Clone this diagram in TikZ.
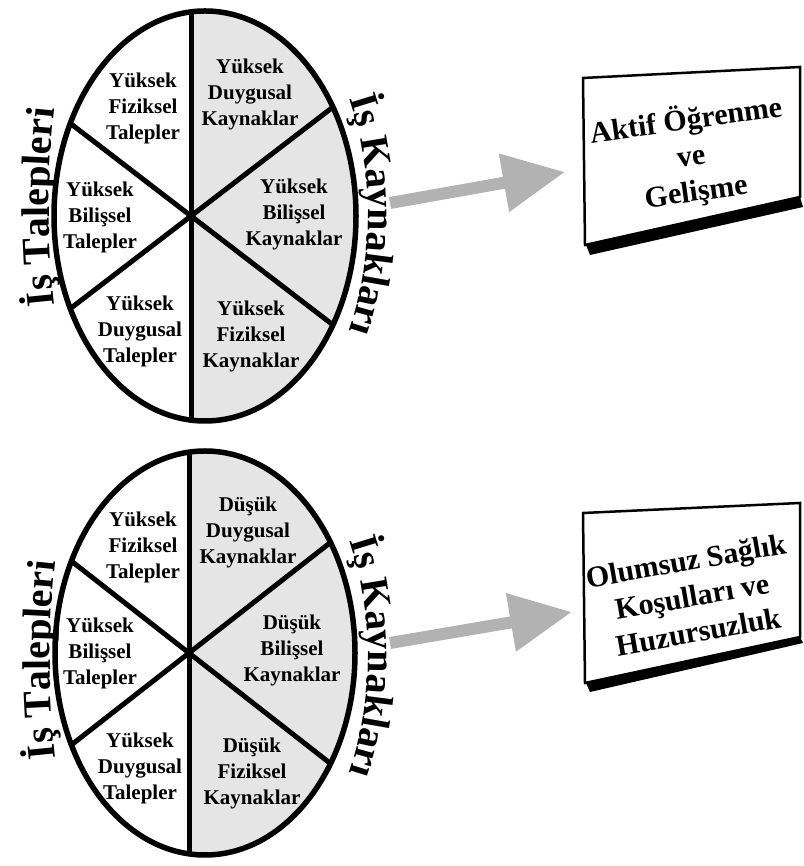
\documentclass[tikz,border=0pt]{standalone}
\usepackage{fontspec}
\setmainfont{Liberation Serif}
\usetikzlibrary{arrows.meta,decorations.text}

\definecolor{halfgray}{gray}{0.9}
\definecolor{arrowgray}{gray}{0.7}
\newcommand{\sidefont}{\bfseries\fontsize{40}{44}\selectfont}

\tikzset{
  rim/.style={draw=black, line width=5.5pt},
  divider/.style={draw=black, line width=5pt},
  sector/.style={font=\bfseries\fontsize{21}{26}\selectfont, align=center, inner sep=0pt, text=black},
  boxtext/.style={font=\bfseries\fontsize{30}{36}\selectfont, align=center, inner sep=0pt, text=black},
  slab/.style={draw=black, line width=2.5pt, fill=white, line join=miter},
  slabshadow/.style={fill=black},
  bigarrow/.style={draw=arrowgray, line width=12pt, -{Triangle[length=62pt, width=56pt]}},
}

\begin{document}
\begin{tikzpicture}[x=1pt, y=1pt]
  \useasboundingbox (0,0) rectangle (803,866);
  \fill[white] (0,0) rectangle (803,866);

  % ---------- upper wheel: high demands, high resources ----------
  \begin{scope}[shift={(191,650)}]
    \coordinate (hubA) at (0,0);
    \begin{scope}
      \clip (14,0) ellipse [x radius=151, y radius=205];
      \fill[halfgray] (0,-215) rectangle (180,215);
      \draw[divider] (0,-215) -- (0,215);
      \draw[divider] (142.5:260) -- (-37.5:260);
      \draw[divider] (37.5:260) -- (217.5:260);
    \end{scope}
    \draw[rim] (14,0) ellipse [x radius=151, y radius=205];

    \node[sector] (aUL) at (-48,108)  {Yüksek\\Fiziksel\\Talepler};
    \node[sector] (aUR) at (59,122)   {Yüksek\\Duygusal\\Kaynaklar};
    \node[sector] (aL)  at (-91,-1)   {Yüksek\\Bilişsel\\Talepler};
    \node[sector] (aR)  at (103,2)    {Yüksek\\Bilişsel\\Kaynaklar};
    \node[sector] (aLL) at (-51,-115) {Yüksek\\Duygusal\\Talepler};
    \node[sector] (aLR) at (60,-120)  {Yüksek\\Fiziksel\\Kaynaklar};
  \end{scope}

  % side labels of the upper wheel, set along gentle arcs
  \path[decorate, decoration={text along path, text align=center,
        text={|\sidefont|İş Talepleri}}]
    ([shift={(190:900)}]949,659) arc[start angle=190, end angle=170, radius=900];
  \path[decorate, decoration={text along path, text align=center,
        text={|\sidefont|İş Kaynakları}}]
    ([shift={(25:370)}]-2,651) arc[start angle=25, end angle=-25, radius=370];

  % ---------- lower wheel: high demands, low resources ----------
  \begin{scope}[shift={(189,213)}]
    \coordinate (hubB) at (0,0);
    \begin{scope}
      \clip (16,0) ellipse [x radius=150, y radius=202];
      \fill[halfgray] (0,-215) rectangle (180,215);
      \draw[divider] (0,-215) -- (0,215);
      \draw[divider] (142:260) -- (-38:260);
      \draw[divider] (38:260) -- (218:260);
    \end{scope}
    \draw[rim] (16,0) ellipse [x radius=150, y radius=202];

    \node[sector] (bUL) at (-46,106)  {Yüksek\\Fiziksel\\Talepler};
    \node[sector] (bUR) at (59,121)   {Düşük\\Duygusal\\Kaynaklar};
    \node[sector] (bL)  at (-89,0)    {Yüksek\\Bilişsel\\Talepler};
    \node[sector] (bR)  at (103,3)    {Düşük\\Bilişsel\\Kaynaklar};
    \node[sector] (bLL) at (-49,-115) {Yüksek\\Duygusal\\Talepler};
    \node[sector] (bLR) at (63,-120)  {Düşük\\Fiziksel\\Kaynaklar};
  \end{scope}

  \path[decorate, decoration={text along path, text align=center,
        text={|\sidefont|İş Talepleri}}]
    ([shift={(190:900)}]950,206) arc[start angle=190, end angle=170, radius=900];
  \path[decorate, decoration={text along path, text align=center,
        text={|\sidefont|İş Kaynakları}}]
    ([shift={(25:370)}]-2,209) arc[start angle=25, end angle=-25, radius=370];

  % ---------- outcome boards ----------
  \fill[slabshadow] (586,621) -- (800,669) -- (803,659) -- (590,611) -- cycle;
  \draw[slab] (583,788) -- (800,799) -- (800,669) -- (585,621) -- cycle;
  \node[boxtext, rotate=8] (outA) at (691,710) {Aktif Öğrenme\\ve\\Gelişme};

  \fill[slabshadow] (586,183) -- (800,229) -- (803,223) -- (590,174) -- cycle;
  \draw[slab] (583,353) -- (800,363) -- (800,229) -- (585,183) -- cycle;
  \node[boxtext, rotate=10] (outB) at (692,270) {Olumsuz Sağlık\\Koşulları ve\\Huzursuzluk};

  % ---------- arrows from the resources to the outcomes ----------
  \coordinate (tailA) at (390,663);
  \coordinate (tipA)  at (565,694);
  \coordinate (tailB) at (390,223);
  \coordinate (tipB)  at (572,254);
  \draw[bigarrow] (tailA) -- (tipA);
  \draw[bigarrow] (tailB) -- (tipB);
\end{tikzpicture}
\end{document}
